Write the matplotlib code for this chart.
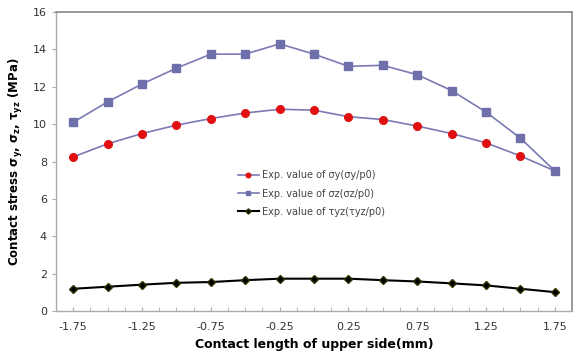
import matplotlib
matplotlib.use("Agg")
import matplotlib.pyplot as plt
import numpy as np

x = [-1.75, -1.5, -1.25, -1.0, -0.75, -0.5, -0.25, 0.0, 0.25, 0.5, 0.75, 1.0, 1.25, 1.5, 1.75]
sigma_y = [8.25, 8.95, 9.5, 9.95, 10.3, 10.6, 10.8, 10.75, 10.4, 10.25, 9.9, 9.5, 9.0, 8.3, 7.5]
sigma_z = [10.1, 11.2, 12.15, 13.0, 13.75, 13.75, 14.3, 13.75, 13.1, 13.15, 12.65, 11.8, 10.65, 9.25, 7.5]
tau_yz = [1.19, 1.30, 1.41, 1.51, 1.55, 1.65, 1.73, 1.73, 1.73, 1.65, 1.58, 1.48, 1.37, 1.19, 1.01]
xticks = [-1.75, -1.25, -0.75, -0.25, 0.25, 0.75, 1.25, 1.75]
xticklabels = ["-1.75", "-1.25", "-0.75", "-0.25", "0.25", "0.75", "1.25", "1.75"]
yticks = [0, 2, 4, 6, 8, 10, 12, 14, 16]

fig = plt.figure(figsize=(5.74, 3.56), dpi=100)
ax = fig.add_axes([0.0976, 0.1264, 0.899, 0.8396])

line_col = "#7a7ab4"
ax.plot(x, sigma_y, color=line_col, lw=1.2, marker="o", ms=5.5,
        mfc="#e01010", mec="#e01010", label="Exp. value of σy(σy/p0)", zorder=3)
ax.plot(x, sigma_z, color=line_col, lw=1.2, marker="s", ms=6,
        mfc="#6f6fab", mec="#6f6fab", label="Exp. value of σz(σz/p0)", zorder=3)
ax.plot(x, tau_yz, color="black", lw=1.5, marker="D", ms=4.5,
        mfc="black", mec="#333300", label="Exp. value of τyz(τyz/p0)", zorder=3)

ax.set_xlim(-1.875, 1.875)
ax.set_ylim(0, 16)
ax.set_xticks(xticks)
ax.set_xticklabels(xticklabels)
ax.set_xticks(np.arange(-1.75, 1.80, 0.125), minor=True)
ax.set_yticks(yticks)
ax.tick_params(axis="x", which="both", direction="in", length=3, color="#aaaaaa",
               labelsize=8, labelcolor="#333333", pad=8)
ax.tick_params(axis="y", which="both", direction="out", length=3, color="#aaaaaa",
               labelsize=8, labelcolor="#333333")

for s in ["top", "right"]:
    ax.spines[s].set_color("#888888")
    ax.spines[s].set_linewidth(1.2)
for s in ["left", "bottom"]:
    ax.spines[s].set_color("#aaaaaa")
    ax.spines[s].set_linewidth(1.0)

ax.set_xlabel("Contact length of upper side(mm)", fontsize=9, fontweight="bold", labelpad=4)
ax.set_ylabel(r"Contact stress $\mathbf{\sigma_y}$, $\mathbf{\sigma_z}$, $\mathbf{\tau_{yz}}$ (MPa)",
              fontsize=8.5, fontweight="bold", labelpad=6)

leg = ax.legend(loc="center", bbox_to_anchor=(0.495, 0.393), frameon=False,
                fontsize=7, handlelength=2.2, labelspacing=0.85, handletextpad=0.3,
                markerscale=0.6)
for t in leg.get_texts():
    t.set_color("#444444")

fig.savefig("out.png", dpi=100)
